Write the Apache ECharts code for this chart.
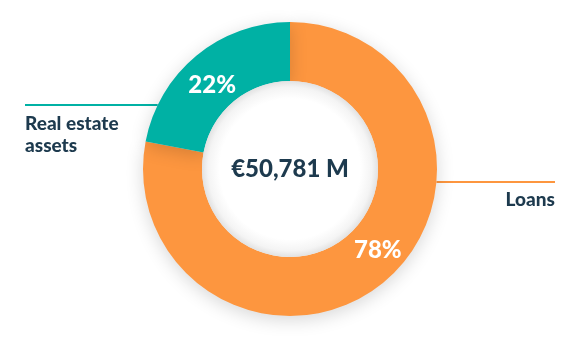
<!DOCTYPE html>
<html>
<head>
<meta charset="utf-8">
<script src="https://cdn.jsdelivr.net/npm/echarts@6/dist/echarts.min.js"></script>
<style>
html,body{margin:0;padding:0;background:#fff;}
#chart{width:581px;height:362px;}
</style>
</head>
<body>
<div id="chart"></div>
<script>
var categories = ['Loans', 'Real estate\nassets'];
var shares = [78, 22];
var colors = ['#FD963F', '#00B1A4'];
var totalLabel = '€50,781 M';

var CX = 290, CY = 169, R_IN = 88, R_OUT = 147;
var FONT = 'Lato, "Open Sans", sans-serif';
var NAVY = '#1D3A4E';

var chart = echarts.init(document.getElementById('chart'), null, {renderer: 'canvas'});

var ringData = categories.map(function (c, i) {
  return {name: c, value: shares[i], itemStyle: {color: colors[i]}};
});

// label line vertical offsets relative to centre (layout, not data)
var lineDy = [13, -64];
var pctShift = [[11, -12], [-1, 9]];

var option = {
  animation: false,
  series: [
    {
      type: 'pie',
      center: [CX, CY],
      radius: [R_IN, R_OUT],
      startAngle: 90,
      clockwise: true,
      silent: true,
      z: 1,
      itemStyle: {color: 'rgba(0,0,0,0)'},
      data: categories.map(function (c, i) {
        return {name: c, value: shares[i],
          labelLine: {lineStyle: {color: colors[i], width: 2}}};
      }),
      label: {
        show: true,
        position: 'outside',
        formatter: '{b}',
        color: NAVY,
        fontFamily: FONT,
        fontWeight: 900,
        fontSize: 19,
        lineHeight: 22
      },
      labelLine: {show: true, length: 10, length2: 10, smooth: false},
      labelLayout: function (p) {
        var i = p.dataIndex;
        var dy = lineDy[i];
        var ly = CY + dy;
        var ex = Math.sqrt(R_OUT * R_OUT - dy * dy);
        if (i === 0) {
          var endX = 555;
          return {
            x: endX, y: ly + 18, align: 'right', verticalAlign: 'middle',
            labelLinePoints: [[CX + ex, ly], [endX, ly], [endX, ly]]
          };
        } else {
          var startX = 25;
          return {
            x: startX, y: ly + 30, align: 'left', verticalAlign: 'middle',
            labelLinePoints: [[CX - ex, ly], [startX, ly], [startX, ly]]
          };
        }
      }
    },
    {
      type: 'pie',
      center: [CX, CY],
      radius: [R_IN, R_OUT],
      startAngle: 90,
      clockwise: true,
      z: 2,
      itemStyle: {
        shadowBlur: 18,
        shadowColor: 'rgba(0,0,0,0.16)',
        shadowOffsetY: 4
      },
      emphasis: {disabled: true},
      data: ringData,
      label: {
        show: true,
        position: 'inside',
        formatter: '{c}%',
        color: '#fff',
        fontFamily: FONT,
        fontWeight: 900,
        fontSize: 24
      },
      labelLine: {show: false},
      labelLayout: function (p) {
        var s = pctShift[p.dataIndex];
        return {dx: s[0], dy: s[1]};
      }
    },
    {
      type: 'pie',
      center: [CX, CY],
      radius: [0, R_IN],
      silent: true,
      z: 3,
      itemStyle: {
        color: {
          type: 'radial', x: 0.5, y: 0.5, r: 0.5,
          colorStops: [
            {offset: 0, color: '#ffffff'},
            {offset: 0.8, color: '#ffffff'},
            {offset: 0.93, color: '#f4f4f4'},
            {offset: 1, color: '#e2e2e2'}
          ]
        }
      },
      data: [{name: 'total', value: 1}],
      label: {
        show: true,
        position: 'center',
        formatter: function () { return totalLabel; },
        color: NAVY,
        fontFamily: FONT,
        fontWeight: 900,
        fontSize: 24
      },
      labelLine: {show: false}
    }
  ]
};
chart.setOption(option);
</script>
</body>
</html>
